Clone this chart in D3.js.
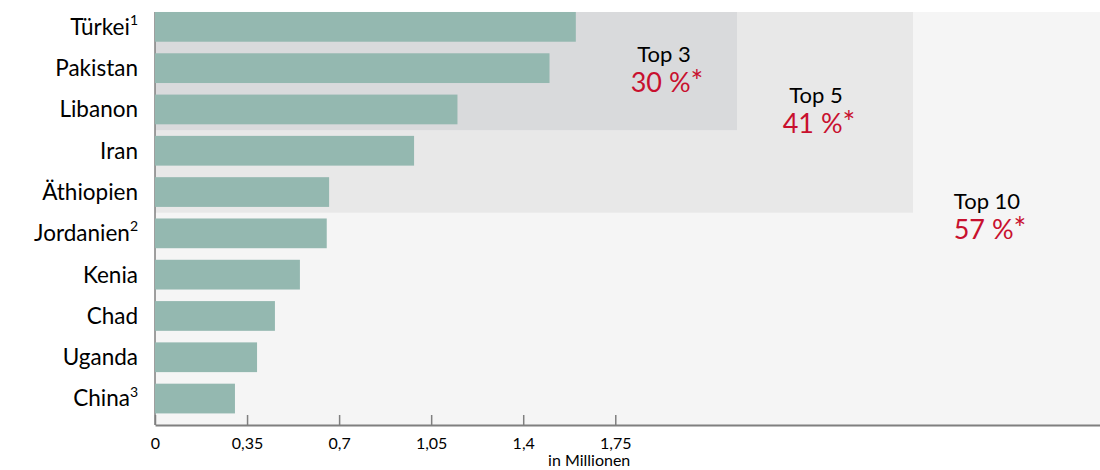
<!DOCTYPE html>
<html>
<head>
<meta charset="utf-8">
<script src="https://cdn.jsdelivr.net/npm/d3@7"></script>
<style>
  html, body { margin: 0; padding: 0; background: #ffffff; }
  svg { display: block; font-family: Lato, "Open Sans", sans-serif; }
</style>
</head>
<body>
<svg id="chart" width="1100" height="470"></svg>
<script>
// ---- data ----
const categories = ["Türkei", "Pakistan", "Libanon", "Iran", "Äthiopien", "Jordanien", "Kenia", "Chad", "Uganda", "China"];
const footnotes  = ["1", "", "", "", "", "2", "", "", "", "3"];
const values     = [1.60, 1.50, 1.15, 0.985, 0.662, 0.653, 0.551, 0.456, 0.388, 0.304];
const tickValues = [0, 0.35, 0.7, 1.05, 1.4, 1.75];
const tickLabels = ["0", "0,35", "0,7", "1,05", "1,4", "1,75"];
const groupNames  = ["Top 10", "Top 5", "Top 3"];
const groupCounts = [10, 5, 3];
const groupShares = ["57 %*", "41 %*", "30 %*"];
const groupExtent = [3.593, 2.882, 2.213]; // right edge of each shaded group, in axis units
const unitLabel = "in Millionen";

// ---- layout ----
const W = 1100, H = 470;
const x0 = 155, x1 = 1100, yTop = 12, yAxis = 425;
const svg = d3.select("#chart");

const x = d3.scaleLinear().domain([0, 3.593]).range([x0, x1]);
const y = d3.scaleBand().domain(categories).range([6.2, 419.2]).paddingInner(0.28).paddingOuter(0.14);
const halfGap = (y.step() - y.bandwidth()) / 2;

const groupFill = ["#f5f5f5", "#e8e8e8", "#d9dadc"];
const groupLabelPos = [[987, 209, 239], [816, 102.7, 133.3], [664, 61.7, 92.3]];

// shaded group backgrounds
groupNames.forEach((g, i) => {
  const n = groupCounts[i];
  const bottom = n === categories.length ? yAxis : y(categories[n - 1]) + y.bandwidth() + halfGap;
  svg.append("rect")
    .attr("x", x(0)).attr("y", yTop)
    .attr("width", x(groupExtent[i]) - x(0))
    .attr("height", bottom - yTop)
    .attr("fill", groupFill[i]);
});

// vertical axis line
svg.append("line")
  .attr("x1", x(0)).attr("x2", x(0)).attr("y1", yTop).attr("y2", yAxis)
  .attr("stroke", "#7f7f7f").attr("stroke-width", 1.5);

// bars
svg.append("g").selectAll("rect").data(categories).join("rect")
  .attr("x", x(0))
  .attr("y", d => y(d))
  .attr("width", (d, i) => x(values[i]) - x(0))
  .attr("height", y.bandwidth())
  .attr("fill", "#94b8b0");

// group annotations
groupNames.forEach((g, i) => {
  const [cx, b1, b2] = groupLabelPos[i];
  svg.append("text").attr("x", cx).attr("y", b1)
    .attr("text-anchor", "middle").attr("font-size", 22).attr("fill", "#000")
    .text(g);
  const share = groupShares[i];
  const t = svg.append("text").attr("x", cx + 3).attr("y", b2)
    .attr("text-anchor", "middle").attr("font-size", 27).attr("fill", "#c8102e");
  t.append("tspan").text(share.replace("*", ""));
  t.append("tspan").attr("font-size", 30).text("*");
});

// category labels
const lab = svg.append("g").selectAll("text").data(categories).join("text")
  .attr("x", 138)
  .attr("y", d => y(d) + y.bandwidth() / 2)
  .attr("dy", "0.35em")
  .attr("text-anchor", "end")
  .attr("font-size", 22.5)
  .attr("fill", "#000");
lab.append("tspan").text(d => d);
lab.append("tspan")
  .attr("font-size", 14)
  .attr("dy", "-0.7em")
  .text((d, i) => footnotes[i]);

// x axis
const axis = d3.axisBottom(x)
  .tickValues(tickValues)
  .tickFormat((d, i) => tickLabels[i])
  .tickSizeInner(-10)
  .tickSizeOuter(0)
  .tickPadding(12.6);
const gx = svg.append("g").attr("transform", `translate(0,${yAxis})`).call(axis);
gx.select(".domain").attr("stroke", "#7f7f7f").attr("stroke-width", 2);
gx.selectAll(".tick line").attr("stroke", "#7f7f7f").attr("stroke-width", 1.5);
gx.selectAll(".tick text").attr("font-size", 16).attr("fill", "#000")
  .attr("font-family", "Lato, 'Open Sans', sans-serif");

svg.append("text")
  .attr("x", x(1.75) + 15).attr("y", 466)
  .attr("text-anchor", "end").attr("font-size", 16).attr("fill", "#000")
  .text(unitLabel);
</script>
</body>
</html>
